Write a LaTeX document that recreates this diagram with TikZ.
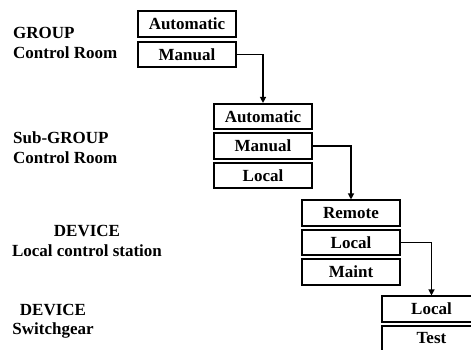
\documentclass[tikz,border=0pt]{standalone}
\usepackage{fontspec}
\setmainfont{Liberation Serif}
\usetikzlibrary{arrows.meta}
\tikzset{
  modebox/.style={draw, line width=1.6pt, minimum width=98.5pt, minimum height=25.5pt,
    inner sep=0pt, font=\bfseries\fontsize{17}{20}\selectfont},
  levellabel/.style={inner sep=0pt, font=\bfseries\fontsize{17}{20}\selectfont},
  link/.style={line width=1.2pt, -{Triangle[length=6pt,width=6pt]}}
}
\begin{document}
\begin{tikzpicture}[x=1pt,y=-1pt]
\useasboundingbox (0,0) rectangle (471,349);

% level captions
\node[levellabel, anchor=base west] (g1) at (13,38) {GROUP};
\node[levellabel, anchor=base west] (g2) at (13,58.5) {Control Room};
\node[levellabel, anchor=base west] (s1) at (13,143) {Sub-GROUP};
\node[levellabel, anchor=base west] (s2) at (13,163) {Control Room};
\node[levellabel, anchor=base] (d1) at (87,236) {DEVICE};
\node[levellabel, anchor=base] (d2) at (87,256) {Local control station};
\node[levellabel, anchor=base] (w1) at (53,315) {DEVICE};
\node[levellabel, anchor=base] (w2) at (53,334.5) {Switchgear};

% group control room
\node[modebox] (gauto) at (187,24) {Automatic};
\node[modebox] (gman)  at (187,54.5) {Manual};

% sub-group control room
\node[modebox] (sauto) at (263,116.5) {Automatic};
\node[modebox] (sman)  at (263,146) {Manual};
\node[modebox] (sloc)  at (263,175.5) {Local};

% device local control station
\node[modebox] (drem) at (351,213) {Remote};
\node[modebox] (dloc) at (351,242.5) {Local};
\node[modebox] (dmnt) at (351,272) {Maint};

% device switchgear
\node[modebox] (wloc)  at (431.5,309) {Local};
\node[modebox] (wtest) at (431.5,338.5) {Test};

% hand-over paths between levels
\draw[link] (gman.east) -| (sauto.north);
\draw[link] (sman.east) -| (drem.north);
\draw[link] (dloc.east) -| (wloc.north);
\end{tikzpicture}
\end{document}
